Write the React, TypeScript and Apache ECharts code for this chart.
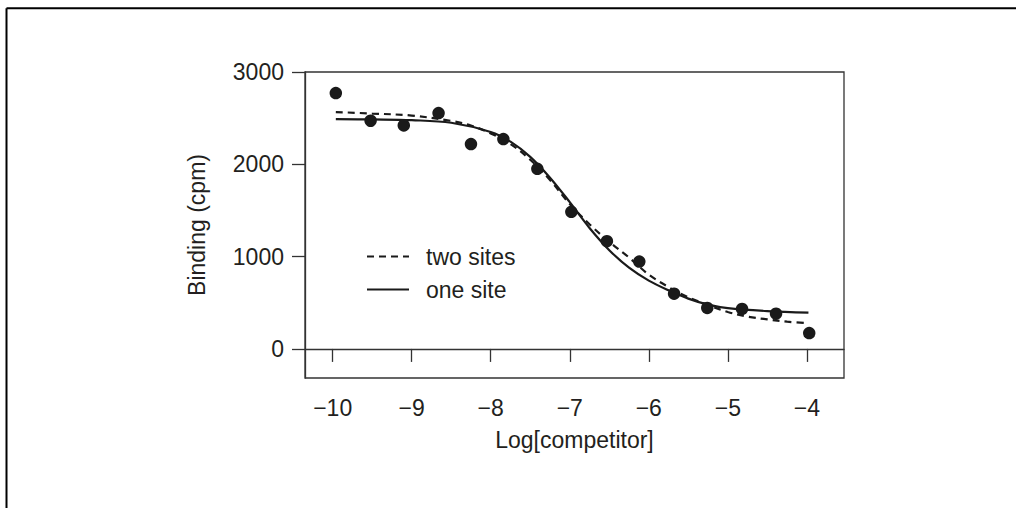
import React, { useEffect, useRef } from "react";
import * as echarts from "echarts";

// Tick values
const xTicks = [-10, -9, -8, -7, -6, -5, -4];
const yTicks = [0, 1000, 2000, 3000];

// Measured data points (log[competitor], binding cpm)
const pointX = [-9.96, -9.52, -9.1, -8.66, -8.25, -7.84, -7.41, -6.98, -6.53, -6.12, -5.68, -5.26, -4.82, -4.39, -3.97];
const pointY = [2772, 2472, 2421, 2555, 2219, 2273, 1951, 1485, 1167, 946, 599, 444, 433, 382, 172];

// Fitted curve "two sites" (dashed)
const twoSitesX = [-9.96, -9.5, -9.0, -8.5, -8.25, -8.0, -7.75, -7.5, -7.25, -7.0, -6.75, -6.5, -6.25, -6.0, -5.75, -5.5, -5.25, -5.0, -4.75, -4.5, -4.25, -3.98];
const twoSitesY = [2566, 2550, 2528, 2470, 2420, 2335, 2220, 2050, 1830, 1570, 1350, 1160, 990, 805, 670, 560, 475, 400, 350, 320, 295, 278];

// Fitted curve "one site" (solid)
const oneSiteX = [-9.96, -9.5, -9.0, -8.5, -8.0, -7.75, -7.5, -7.25, -7.0, -6.75, -6.5, -6.25, -6.0, -5.75, -5.5, -5.25, -5.0, -4.5, -3.98];
const oneSiteY = [2490, 2486, 2478, 2450, 2350, 2245, 2080, 1855, 1590, 1310, 1070, 880, 740, 635, 545, 480, 442, 410, 393];

const FONT = "'Liberation Sans', Arial, Helvetica, sans-serif";
const TEXT = "#231f20";
const AXIS = "#333333";
const INK = "#1a1a1a";

function pairs(xs: number[], ys: number[]) {
  return xs.map((x, i) => [x, ys[i]]);
}

function fmtMinus(v: number) {
  return v < 0 ? "\u2212" + Math.abs(v) : String(v);
}

export default function App() {
  const ref = useRef<HTMLDivElement>(null);

  useEffect(() => {
    if (!ref.current) return;
    const chart = echarts.init(ref.current, undefined, { renderer: "svg" });
    const axisLineStyle = { color: AXIS, width: 1.3 };
    chart.setOption({
      animation: false,
      backgroundColor: "#ffffff",
      textStyle: { fontFamily: FONT },
      grid: {
        left: 305,
        top: 72,
        right: 172,
        bottom: 130,
        show: true,
        borderColor: AXIS,
        borderWidth: 1.3,
        backgroundColor: "transparent",
      },
      graphic: [
        {
          type: "line",
          shape: { x1: 6.5, y1: 8.3, x2: 1016, y2: 8.3 },
          style: { stroke: "#000", lineWidth: 2 },
          silent: true,
        },
        {
          type: "line",
          shape: { x1: 6.5, y1: 8.3, x2: 6.5, y2: 508 },
          style: { stroke: "#000", lineWidth: 2 },
          silent: true,
        },
      ],
      legend: {
        data: ["two sites", "one site"],
        orient: "vertical",
        left: 366,
        top: 245,
        padding: 0,
        itemWidth: 42,
        itemHeight: 1,
        itemGap: 10,
        itemStyle: { opacity: 0 },
        textStyle: {
          fontSize: 23,
          color: TEXT,
          fontFamily: FONT,
          padding: [0, 0, 0, 12],
        },
      },
      xAxis: {
        type: "value",
        min: -10.35,
        max: -3.53,
        name: "Log[competitor]",
        nameLocation: "middle",
        nameGap: 50,
        nameTextStyle: { fontSize: 23, color: TEXT, fontFamily: FONT },
        axisLine: { show: true, lineStyle: axisLineStyle },
        axisTick: {
          show: true,
          inside: false,
          length: 13,
          customValues: xTicks,
          lineStyle: axisLineStyle,
        },
        axisLabel: {
          customValues: xTicks,
          formatter: (v: number) => fmtMinus(v),
          fontSize: 23,
          color: TEXT,
          fontFamily: FONT,
          margin: 18,
        },
        splitLine: { show: false },
      },
      yAxis: {
        type: "value",
        min: -315,
        max: 3000,
        name: "Binding (cpm)",
        nameLocation: "middle",
        nameRotate: 90,
        nameGap: 97,
        nameTextStyle: { fontSize: 23, color: TEXT, fontFamily: FONT },
        axisLine: { show: true, lineStyle: axisLineStyle },
        axisTick: {
          show: true,
          inside: false,
          length: 13,
          customValues: yTicks,
          lineStyle: axisLineStyle,
        },
        axisLabel: {
          customValues: yTicks,
          formatter: (v: number) => String(v),
          fontSize: 23,
          color: TEXT,
          fontFamily: FONT,
          margin: 21,
        },
        splitLine: { show: false },
      },
      series: [
        {
          name: "two sites",
          type: "line",
          data: pairs(twoSitesX, twoSitesY),
          smooth: 0.35,
          symbol: "none",
          lineStyle: { color: INK, width: 2.2, type: [7, 5] },
          itemStyle: { color: INK },
          z: 2,
        },
        {
          name: "one site",
          type: "line",
          data: pairs(oneSiteX, oneSiteY),
          smooth: 0.35,
          symbol: "none",
          lineStyle: { color: INK, width: 2.2, type: "solid" },
          itemStyle: { color: INK },
          z: 2,
        },
        {
          name: "data",
          type: "scatter",
          data: pairs(pointX, pointY),
          symbol: "circle",
          symbolSize: 12.5,
          itemStyle: { color: INK, opacity: 1 },
          z: 3,
        },
      ],
    });
    return () => {
      chart.dispose();
    };
  }, []);

  return (
    <div
      ref={ref}
      style={{ position: "absolute", left: 0, top: 0, width: 1016, height: 508 }}
    />
  );
}
